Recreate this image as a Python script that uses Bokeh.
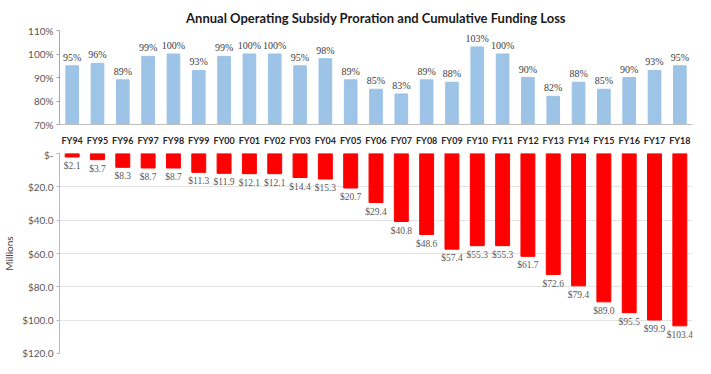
from bokeh.plotting import figure
from bokeh.layouts import column
from bokeh.models import (ColumnDataSource, Range1d, FixedTicker, PrintfTickFormatter,
                          CustomJSTickFormatter, LabelSet, FactorRange)
from bokeh.embed import file_html
from bokeh.resources import INLINE

years = ["FY94", "FY95", "FY96", "FY97", "FY98", "FY99", "FY00", "FY01", "FY02", "FY03",
         "FY04", "FY05", "FY06", "FY07", "FY08", "FY09", "FY10", "FY11", "FY12", "FY13",
         "FY14", "FY15", "FY16", "FY17", "FY18"]
proration = [95, 96, 89, 99, 100, 93, 99, 100, 100, 95, 98, 89, 85, 83, 89, 88, 103, 100,
             90, 82, 88, 85, 90, 93, 95]
funding_loss = [2.1, 3.7, 8.3, 8.7, 8.7, 11.3, 11.9, 12.1, 12.1, 14.4, 15.3, 20.7, 29.4, 40.8,
                48.6, 57.4, 55.3, 55.3, 61.7, 72.6, 79.4, 89.0, 95.5, 99.9, 103.4]
pct_ticks = [70, 80, 90, 100, 110]
money_ticks = [0, 20, 40, 60, 80, 100, 120]

FONT = "Lato"
W = 695

src1 = ColumnDataSource(dict(x=years, y=proration, lab=[f"{v}%" for v in proration]))
src2 = ColumnDataSource(dict(x=years, y=funding_loss, lab=[f"${v:.1f}" for v in funding_loss]))

xr = FactorRange(*years, range_padding=0)

p1 = figure(x_range=xr, y_range=Range1d(70, 110), width=W, height=148,
            output_backend="svg", toolbar_location=None,
            min_border_left=50, min_border_right=3, min_border_top=30, min_border_bottom=23,
            title="Annual Operating Subsidy Proration and Cumulative Funding Loss")
p1.title.align = "center"
p1.title.offset = -12
p1.title.text_font = FONT
p1.title.text_font_size = "13px"
p1.title.text_font_style = "bold"
p1.title.text_color = "#1a1a1a"
p1.outline_line_color = None
p1.grid.visible = False
p1.vbar(x="x", top="y", bottom=70, width=0.5, source=src1, color="#9DC3E6")
p1.add_layout(LabelSet(x="x", y="y", text="lab", source=src1, y_offset=3,
                       text_align="center", text_baseline="bottom",
                       text_font=FONT, text_font_size="10px", text_color="#404040"))
p1.yaxis.ticker = FixedTicker(ticks=pct_ticks)
p1.yaxis.formatter = PrintfTickFormatter(format="%d%%")
ax = p1.yaxis[0]
ax.major_label_text_font = FONT
ax.major_label_text_font_size = "10px"
ax.major_label_text_color = "#595959"
ax.axis_line_color = "#A6A6A6"
ax.major_tick_line_color = "#A6A6A6"
ax.major_tick_out = 3
ax.major_tick_in = 0
ax.minor_tick_line_color = None
ax.major_label_standoff = 3
p1.xaxis.major_label_text_font = FONT
p1.xaxis.major_label_text_font_size = "9px"
p1.xaxis.major_label_text_font_style = "bold"
p1.xaxis.major_label_text_color = "#262626"
p1.xaxis.axis_line_color = "#BFBFBF"
p1.xaxis.major_tick_line_color = None
p1.xaxis.major_label_standoff = 4

p2 = figure(x_range=xr, y_range=Range1d(120, 0), width=W, height=210,
            output_backend="svg", toolbar_location=None,
            min_border_left=50, min_border_right=3, min_border_top=5, min_border_bottom=5)
p2.outline_line_color = None
p2.xgrid.visible = False
p2.ygrid.grid_line_color = "#E3E3E3"
p2.ygrid.ticker = FixedTicker(ticks=money_ticks)
p2.vbar(x="x", top=0, bottom="y", width=0.55, source=src2, color="#FF0000")
p2.add_layout(LabelSet(x="x", y="y", text="lab", source=src2, y_offset=-4,
                       text_align="center", text_baseline="top",
                       text_font=FONT, text_font_size="9.5px", text_color="#595959"))
p2.xaxis.visible = False
ax = p2.yaxis[0]
ax.ticker = FixedTicker(ticks=money_ticks)
ax.formatter = CustomJSTickFormatter(code="return tick == 0 ? '$-' : '$' + tick.toFixed(1);")
ax.major_label_text_font = FONT
ax.major_label_text_font_size = "10px"
ax.major_label_text_color = "#595959"
ax.axis_line_color = "#A9BDC9"
ax.major_tick_line_color = "#A9BDC9"
ax.major_tick_out = 3
ax.major_tick_in = 0
ax.minor_tick_line_color = None
ax.major_label_standoff = 3
ax.axis_label = "Millions"
ax.axis_label_text_font = FONT
ax.axis_label_text_font_size = "10px"
ax.axis_label_text_font_style = "normal"
ax.axis_label_text_color = "#404040"
ax.axis_label_standoff = 4

layout = column(p1, p2, spacing=0)
open("out.html", "w").write(file_html(layout, INLINE))
